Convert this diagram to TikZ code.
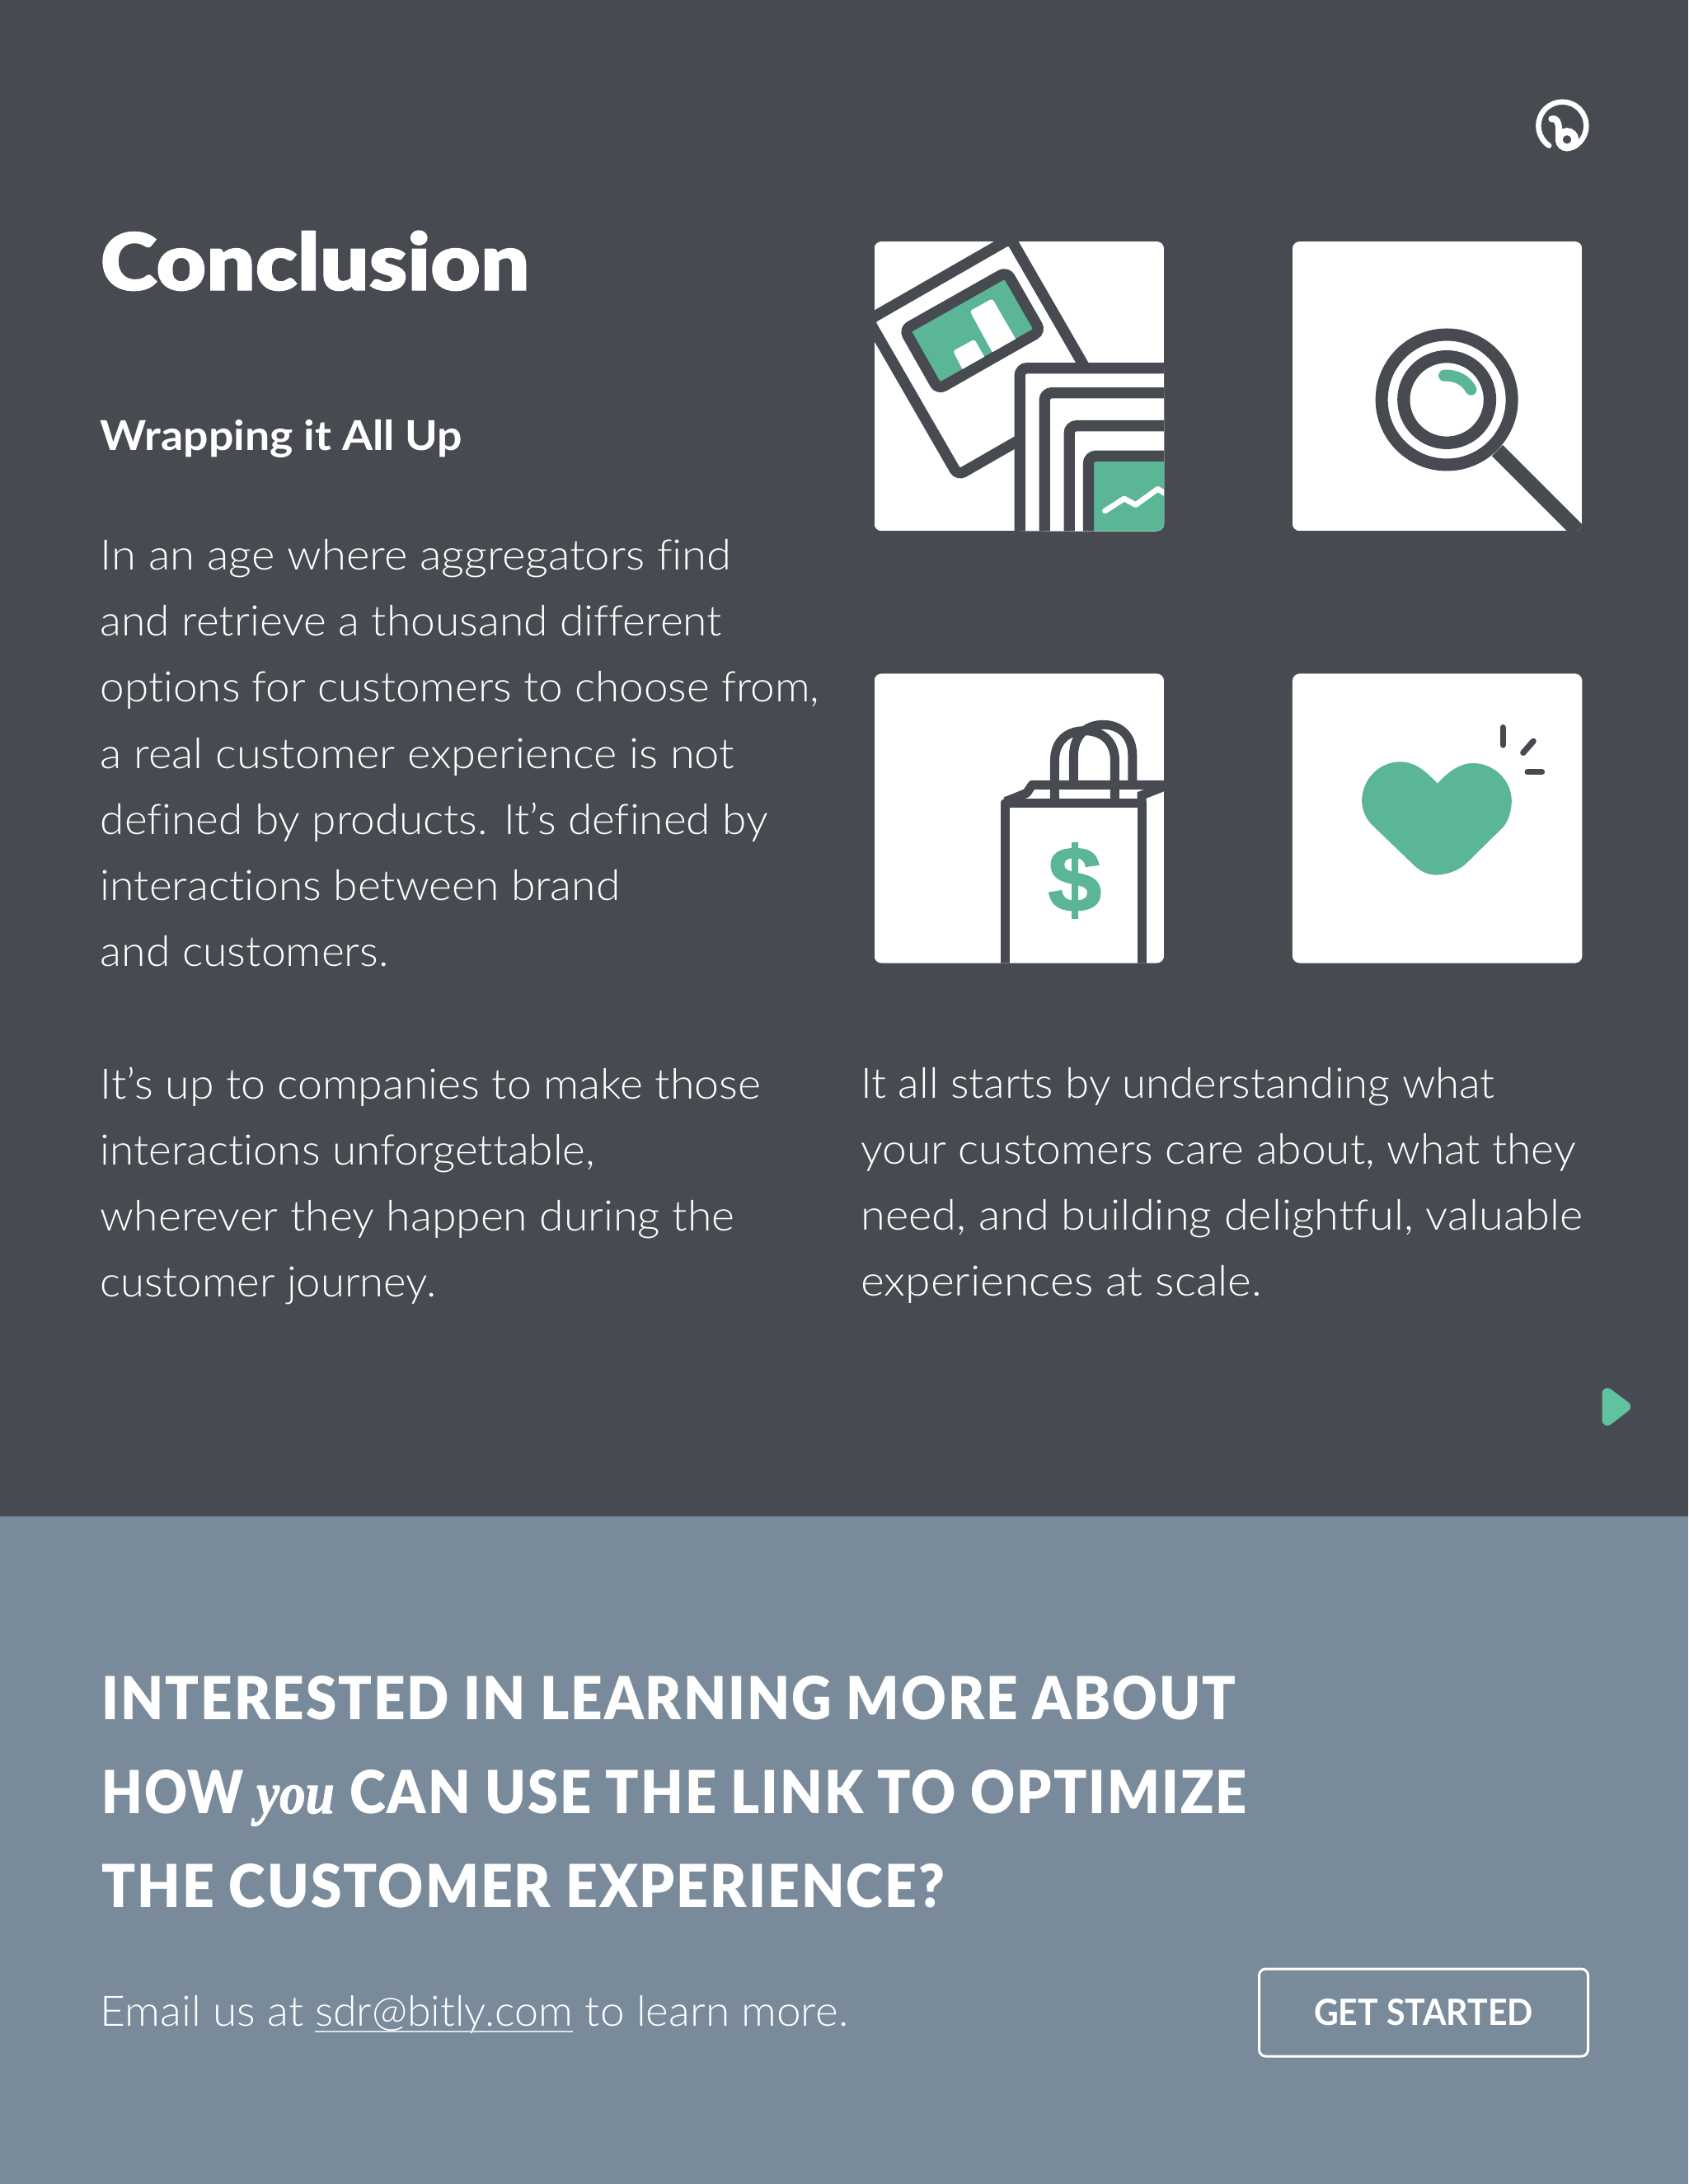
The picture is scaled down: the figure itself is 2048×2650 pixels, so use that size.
\documentclass[tikz,border=0pt]{standalone}
\usepackage{graphicx}
\usepackage{fontspec}
\setmainfont[Ligatures=NoCommon]{Lato}
\newfontfamily\lt[Ligatures=NoCommon]{Lato Light}
\newfontfamily\bk[Ligatures=NoCommon,FakeBold=1.2]{Lato Black}
\newfontfamily\bks[Ligatures=NoCommon,LetterSpace=3]{Lato Black}
\newfontfamily\srf[ItalicFont=* Bold Italic,ItalicFeatures={FakeBold=1.5}]{Liberation Serif}
\newfontfamily\dol[FakeBold=1.5]{Liberation Sans}
\definecolor{dk}{HTML}{474A51}
\definecolor{sl}{HTML}{798A9A}
\definecolor{gr}{HTML}{5BB698}
\definecolor{gb}{HTML}{5FC3A0}
\newcommand{\fitline}[5]{\node[anchor=base west,inner sep=0pt,text=white] (#1) at ({#2*1.6898},#3) {\resizebox{\dimexpr 1.6898\dimexpr #4pt-#2pt\relax\relax}{\height}{#5}};}
\newcommand{\bd}{\lt\fontsize{51}{51}\selectfont}
\newcommand{\hd}{\bks\fontsize{72}{72}\selectfont}
\tikzset{
 zoomed/.style={x=0.3333pt,y=-0.3333pt},
 lw/.style={draw=dk,line width=13.3pt},
 lwb/.style={draw=dk,line width=11pt},
}
\begin{document}
\begin{tikzpicture}[x=1pt,y=-1pt]
\useasboundingbox (0,0) rectangle (2048,2650);
\fill[dk] (0,0) rectangle (2048,1840);
\fill[sl] (0,1840) rectangle (2048,2650);
% logo
\begin{scope}[shift={(1831,100)},zoomed]
\draw[white,line width=6.5pt,line cap=round] (144.4,230) arc[start angle=124,end angle=425,radius=87];
\draw[white,line width=8pt,line cap=round,line join=round] (154,133) .. controls (172,128) and (180,146) .. (180,170) -- (180,208);
\draw[white,line width=9pt] (210,208) circle[radius=29];
\end{scope}
% icon 1
\begin{scope}[shift={(1040.5,270)},zoomed]
\begin{scope}
\clip[rounded corners=9pt] (60,69) rectangle (1115,1123);
\fill[white] (60,69) rectangle (1115,1123);
\draw[lw,rounded corners=8pt] (39,355) -- (556,58) -- (882,623) -- (365,920) -- cycle;
\fill[white] (55,0) rectangle (1120,69);
\draw[lw,fill=gr,rounded corners=8pt] (170,390) -- (542,180) -- (665,395) -- (293,607) -- cycle;
\begin{scope}
\clip (197,397) -- (535,207) -- (638,388) -- (300,580) -- cycle;
\fill[white,rounded corners=3pt] (347,468) -- (425,425) -- (490,540) -- (410,590) -- cycle;
\fill[white,rounded corners=3pt] (408,322) -- (490,277) -- (590,450) -- (505,500) -- cycle;
\end{scope}
\draw[lw,fill=white,rounded corners=9pt] (1200,1200) -- (590,1200) -- (590,530) -- (1200,530);
\draw[lw,fill=white,rounded corners=9pt] (1200,1200) -- (680,1200) -- (680,620) -- (1200,620);
\draw[lw,fill=white,rounded corners=9pt] (1200,1200) -- (770,1200) -- (770,740) -- (1200,740);
\draw[lw,fill=gr,rounded corners=9pt] (1200,1200) -- (840,1200) -- (840,850) -- (1200,850);
\draw[white,line width=6.7pt,line cap=round,line join=round] (900,1050) -- (970,1005) -- (1012,1028) -- (1092,970) -- (1125,990);
\end{scope}
\end{scope}
% icon 2
\begin{scope}[shift={(1540.5,270)},zoomed]
\begin{scope}
\clip[rounded corners=9pt] (82,69) rectangle (1137,1123);
\fill[white] (82,69) rectangle (1137,1123);
\draw[dk,line width=15pt] (644,645) circle[radius=237];
\draw[dk,line width=15.3pt] (644,645) circle[radius=157];
\draw[dk,line width=18.7pt] (828,830) -- (1160,1162);
\draw[gr,line width=14pt,line cap=round] (635,557) .. controls (680,555) and (715,575) .. (732,608);
\end{scope}
\end{scope}
% icon 3
\begin{scope}[shift={(1040.5,800)},zoomed]
\begin{scope}
\clip[rounded corners=9pt] (60,52) rectangle (1115,1106);
\fill[white] (60,52) rectangle (1115,1106);
\draw[lwb,line join=round] (717,523) -- (717,370) .. controls (717,300) and (760,260) .. (826,260) .. controls (892,260) and (936,300) .. (936,370) -- (936,523);
\draw[lwb] (786,457) -- (786,350) .. controls (786,280) and (830,238) .. (893,238) .. controls (957,238) and (1000,280) .. (1000,350) -- (1000,457);
\draw[lwb,line join=round] (537,1150) -- (537,523) -- (1034,523) -- (1034,1150);
\draw[lwb,line join=round] (537,518) -- (615,487) -- (635,457) -- (1140,457);
\draw[lwb,line cap=round] (1034,520) -- (1034,495) -- (1140,453);
\node[text=gr,inner sep=0pt,font=\dol\bfseries\fontsize{112}{112}\selectfont] (dollar) at (790,805) {\resizebox{65pt}{\height}{\$}};
\end{scope}
\end{scope}
% icon 4
\begin{scope}[shift={(1540.5,800)},zoomed]
\fill[white,rounded corners=9pt] (82,52) rectangle (1137,1106);
\fill[gr] (610,452) .. controls (570,410) and (530,373) .. (475,373) .. controls (395,373) and (335,440) .. (335,515) .. controls (335,550) and (350,580) .. (372,603) -- (525,750) .. controls (550,775) and (580,785) .. (605,785) .. controls (640,785) and (690,770) .. (720,738) -- (850,610) .. controls (870,585) and (880,550) .. (880,515) .. controls (880,440) and (815,378) .. (740,378) .. controls (690,378) and (650,410) .. (610,452) -- cycle;
\draw[dk,line width=7.3pt,line cap=round] (848,248) -- (848,312);
\draw[dk,line width=7.3pt,line cap=round] (959,298) -- (922,340);
\draw[dk,line width=7.3pt,line cap=round] (938,410) -- (990,410);
\end{scope}
% play mark
\begin{scope}[shift={(1900,1660)},zoomed]
\draw[gb,fill=gb,line width=13pt,line join=round] (150,92) -- (215,140) -- (150,190) -- cycle;
\end{scope}
% texts
\fitline{title}{72}{352}{380}{\bk\fontsize{96}{96}\selectfont Conclusion}
\fitline{sub}{72}{546}{332}{\bfseries\fontsize{50}{50}\selectfont Wrapping it All Up}
\fitline{a1}{72}{691}{525}{\bd In an age where aggregators find}
\fitline{a2}{72}{771}{518}{\bd and retrieve a thousand different}
\fitline{a3}{72}{851}{588}{\bd options for customers to choose from,}
\fitline{a4}{72}{932}{527}{\bd a real customer experience is not}
\fitline{a5}{72}{1012}{551}{\bd defined by products. It’s defined by}
\fitline{a6}{72}{1092}{445}{\bd interactions between brand}
\fitline{a7}{72}{1172}{279}{\bd and customers.}
\fitline{b1}{72}{1333}{546}{\bd It’s up to companies to make those}
\fitline{b2}{72}{1413}{427}{\bd interactions unforgettable,}
\fitline{b3}{72}{1493}{527}{\bd wherever they happen during the}
\fitline{b4}{72}{1573}{313}{\bd customer journey.}
\fitline{c1}{618}{1332}{1073}{\bd It all starts by understanding what}
\fitline{c2}{618}{1412}{1131}{\bd your customers care about, what they}
\fitline{c3}{618}{1492}{1136}{\bd need, and building delightful, valuable}
\fitline{c4}{618}{1572}{906}{\bd experiences at scale.}
\fitline{h1}{73}{2086}{887}{\hd INTERESTED IN LEARNING MORE ABOUT}
\fitline{h2a}{73}{2200}{175}{\hd HOW}
\fitline{h2b}{184}{2200}{240}{\srf\itshape\fontsize{72}{72}\selectfont you}
\fitline{h2c}{251}{2200}{895}{\hd CAN USE THE LINK TO OPTIMIZE}
\fitline{h3}{73}{2314}{678}{\hd THE CUSTOMER EXPERIENCE?}
\fitline{e1}{72}{2458}{218}{\bd Email us at}
\fitline{e2}{226}{2458}{411}{\bd sdr@bitly.com}
\fitline{e3}{420}{2458}{609}{\bd to learn more.}
\draw[white!75!sl,line width=1.2pt] (e2.base west)++(0,7) -- ([yshift=-7pt]e2.base east);
\node[draw=white,line width=3pt,rounded corners=8pt,minimum width=399pt,minimum height=106pt,inner sep=0pt] (btn) at (1727,2442) {};
\node[text=white,inner sep=0pt,font=\bfseries\fontsize{44}{44}\selectfont] (btnt) at (btn.center) {\resizebox{266pt}{\height}{GET STARTED}};
\end{tikzpicture}
\end{document}
